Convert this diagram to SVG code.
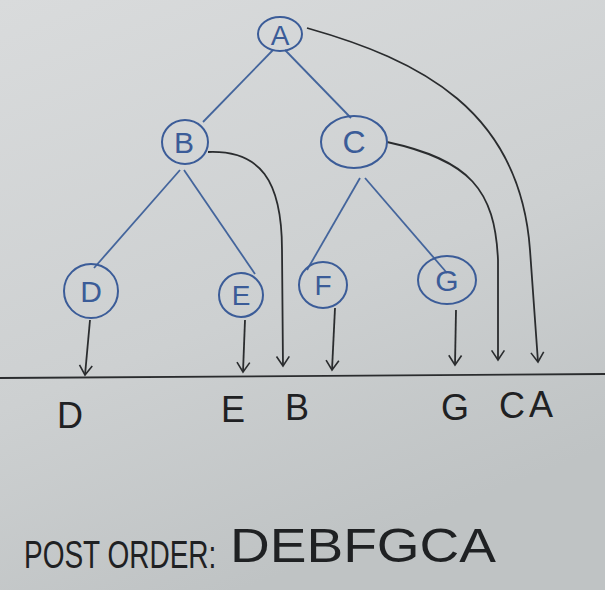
<svg xmlns="http://www.w3.org/2000/svg" width="605" height="590" viewBox="0 0 605 590">
<defs>
<linearGradient id="paper" x1="0" y1="0" x2="0.4" y2="1">
<stop offset="0" stop-color="#d9dbdc"/>
<stop offset="0.6" stop-color="#cdd0d1"/>
<stop offset="1" stop-color="#bfc3c4"/>
</linearGradient>
<marker id="v" viewBox="0 0 20 20" refX="18" refY="10" markerWidth="16" markerHeight="16" markerUnits="userSpaceOnUse" orient="auto">
<path d="M6 2 L18 10 L6 18" fill="none" stroke="#2a2c2e" stroke-width="2"/>
</marker>
</defs>
<style>
.node ellipse{fill:none;stroke:#3b5c98;stroke-width:2}
.node text{font-family:"Liberation Sans",sans-serif;fill:#3b5c98;text-anchor:middle}
.edge{fill:none;stroke:#44659c;stroke-width:1.8}
.arr{fill:none;stroke:#2a2c2e;stroke-width:1.8;marker-end:url(#v)}
.lbl{font-family:"Liberation Sans",sans-serif;fill:#1f2123;font-size:36px;text-anchor:middle}
.po{font-family:"Liberation Sans",sans-serif;fill:#1f2123}
</style>
<rect width="605" height="590" fill="url(#paper)"/>
<g id="connectors">
<line class="edge" x1="273" y1="50" x2="203" y2="122"/>
<line class="edge" x1="285" y1="50" x2="351" y2="118"/>
<line class="edge" x1="180" y1="170" x2="94" y2="268"/>
<line class="edge" x1="184" y1="170" x2="255" y2="274"/>
<line class="edge" x1="360" y1="178" x2="307" y2="270"/>
<line class="edge" x1="365" y1="178" x2="447" y2="273"/>
<path class="arr" d="M307 28 C420 60 520 110 530 250 L538 362"/>
<path class="arr" d="M387 142 C470 160 495 190 498 260 L498 360"/>
<path class="arr" d="M208 152 C260 150 282 180 282 250 L283 366"/>
<line class="arr" x1="90" y1="320" x2="85" y2="375"/>
<line class="arr" x1="245" y1="320" x2="243" y2="372"/>
<line class="arr" x1="335" y1="308" x2="332" y2="370"/>
<line class="arr" x1="456" y1="310" x2="455" y2="365"/>
<line x1="0" y1="378" x2="605" y2="374" stroke="#2a2c2e" stroke-width="1.8"/>
</g>
<g id="node-A" class="node"><ellipse cx="280" cy="34" rx="22" ry="17"/><text x="280" y="45" font-size="28">A</text></g>
<g id="node-B" class="node"><ellipse cx="185" cy="142" rx="23" ry="22"/><text x="184" y="153" font-size="30">B</text></g>
<g id="node-C" class="node"><ellipse cx="354" cy="142" rx="33" ry="26"/><text x="354" y="153" font-size="32">C</text></g>
<g id="node-D" class="node"><ellipse cx="91" cy="291" rx="27" ry="27"/><text x="91" y="302" font-size="30">D</text></g>
<g id="node-E" class="node"><ellipse cx="241" cy="295" rx="22" ry="22"/><text x="241" y="305" font-size="28">E</text></g>
<g id="node-F" class="node"><ellipse cx="323" cy="285" rx="24" ry="23"/><text x="323" y="295" font-size="28">F</text></g>
<g id="node-G" class="node"><ellipse cx="447" cy="280" rx="29" ry="24"/><text x="447" y="291" font-size="30">G</text></g>
<g id="labels">
<text class="lbl" x="70" y="428">D</text>
<text class="lbl" x="233" y="422">E</text>
<text class="lbl" x="297" y="420">B</text>
<text class="lbl" x="455" y="420">G</text>
<text class="lbl" x="512" y="418">C</text>
<text class="lbl" x="541" y="417">A</text>
</g>
<text class="po" font-size="28" transform="translate(24,568) scale(1,1.4)">POST ORDER:</text>
<text class="po" x="230" y="562" font-size="48" textLength="266" lengthAdjust="spacingAndGlyphs">DEBFGCA</text>
</svg>
